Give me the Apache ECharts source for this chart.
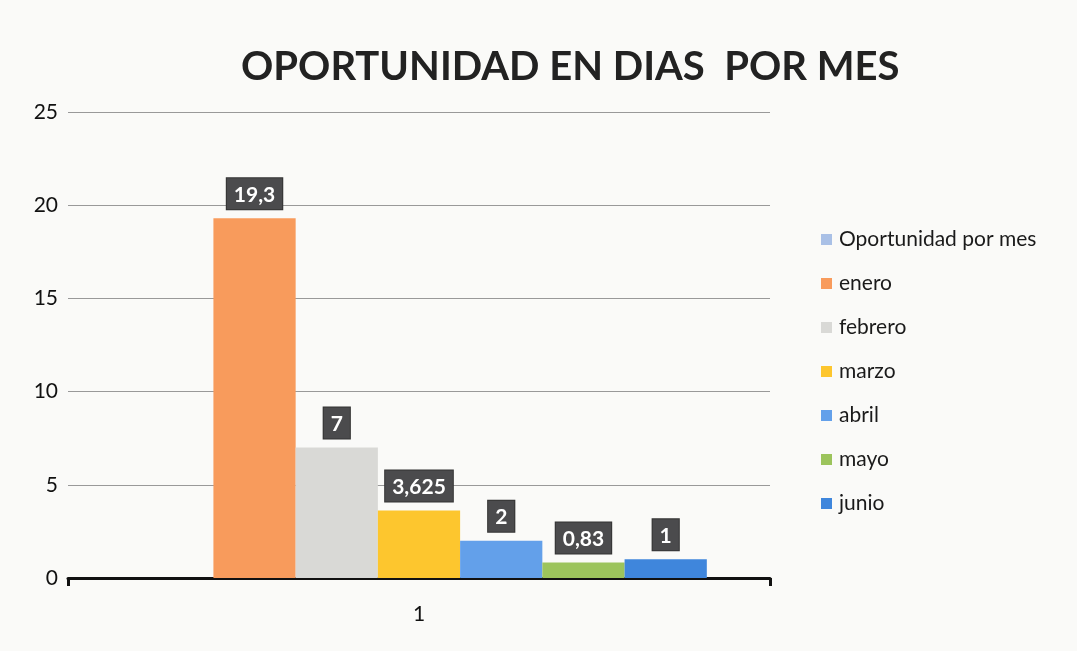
<!DOCTYPE html>
<html>
<head>
<meta charset="utf-8">
<script src="https://cdn.jsdelivr.net/npm/echarts@6/dist/echarts.min.js"></script>
<style>
  html, body { margin: 0; padding: 0; background: #fafaf8; }
  #chart { width: 1077px; height: 651px; }
</style>
</head>
<body>
<div id="chart"></div>
<script>
  // datos
  var categorias = ['1'];
  var series = ['Oportunidad por mes', 'enero', 'febrero', 'marzo', 'abril', 'mayo', 'junio'];
  var valores = ['-', 19.3, 7, 3.625, 2, 0.83, 1];
  var colores = ['#a9c0e6', '#f89b5c', '#d9d9d6', '#fdc62e', '#63a0ea', '#9cc45c', '#3f86dc'];
  var ticksY = [0, 5, 10, 15, 20, 25];

  var chart = echarts.init(document.getElementById('chart'));

  var chartOption = {
    backgroundColor: '#fafaf8',
    textStyle: { fontFamily: 'Lato' },
    title: {
      text: 'OPORTUNIDAD EN DIAS  POR MES',
      left: 236,
      top: 42,
      textStyle: { fontFamily: 'Lato', fontWeight: 'bold', fontSize: 40, color: '#222' }
    },
    legend: {
      orient: 'vertical',
      left: 816,
      top: 224,
      itemWidth: 11,
      itemHeight: 11,
      itemGap: 23,
      icon: 'rect',
      data: series,
      textStyle: { fontSize: 21, color: '#1a1a1a', lineHeight: 21, padding: [0, 0, 0, 2] }
    },
    grid: { left: 68, right: 307, top: 112, bottom: 73 },
    xAxis: {
      type: 'category',
      data: categorias,
      axisLine: { lineStyle: { color: '#111', width: 3 } },
      axisTick: { show: true, length: 8, lineStyle: { color: '#111', width: 3 } },
      axisLabel: { fontSize: 21, color: '#111', margin: 26 }
    },
    yAxis: {
      type: 'value',
      min: ticksY[0],
      max: ticksY[ticksY.length - 1],
      interval: 5,
      axisLine: { show: false },
      axisTick: { show: false },
      axisLabel: { fontSize: 21, color: '#111', margin: 10 },
      splitLine: { lineStyle: { color: '#999', width: 1 } }
    },
    series: series.map(function (nombre, i) {
      return {
        name: nombre,
        type: 'bar',
        data: [valores[i]],
        barGap: '0%',
        barCategoryGap: '18%',
        itemStyle: { color: colores[i] },
        label: {
          show: true,
          position: 'top',
          distance: 9,
          formatter: function (p) { return String(p.value).replace('.', ','); },
          backgroundColor: '#4b4b4d',
          borderColor: '#333',
          borderWidth: 1,
          padding: [6, 7, 4, 7],
          color: '#fff',
          fontWeight: 'bold',
          fontSize: 21
        }
      };
    })
  };

  chart.setOption(chartOption);
</script>
</body>
</html>
